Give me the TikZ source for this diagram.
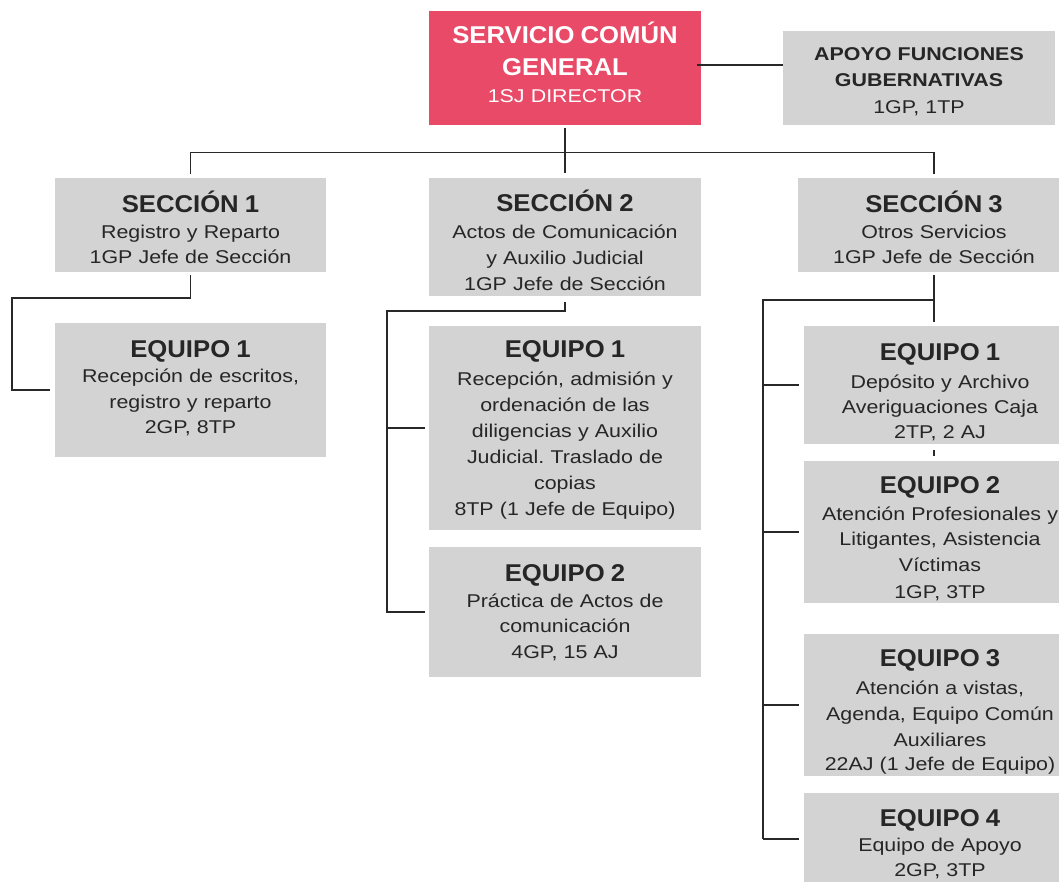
\documentclass[tikz,border=0pt]{standalone}
\usepackage{fontspec}
\setmainfont{Liberation Sans}
\newfontfamily\bodyf[FakeStretch=1.157]{Liberation Sans}
\newfontfamily\titlef[FakeStretch=1.057]{Liberation Sans}
\definecolor{boxgray}{RGB}{211,211,211}
\definecolor{redbox}{RGB}{232,74,104}
\definecolor{txtcol}{RGB}{38,38,38}
\definecolor{linecol}{RGB}{40,40,40}
\newcommand{\fl}{\rule{0pt}{28pt}}
\newcommand{\ttl}[1]{{\titlef\bfseries\fontsize{24.3}{25.5}\selectfont #1}}
\frenchspacing
\begin{document}
\begin{tikzpicture}[x=1pt,y=-1pt,
  box/.style={fill=boxgray, draw=none, inner sep=0pt, outer sep=0pt, anchor=north west},
  txt/.style={anchor=north, inner sep=0pt, outer sep=0pt, text width=300pt, align=center,
    font=\bodyf\fontsize{18.5}{25.5}\selectfont\frenchspacing, text=txtcol},
  ln/.style={draw=linecol, line width=1.9pt},
  bus/.style={draw=linecol, line width=2.9pt}]
\useasboundingbox (0,0) rectangle (1059,881);
\clip (0,0) rectangle (1059,881);

% boxes
\node[box, fill=redbox, minimum width=272pt, minimum height=114pt] (red) at (429,11) {};
\node[box, minimum width=272pt, minimum height=94pt] (apoyo) at (783,31) {};
\node[box, minimum width=271pt, minimum height=94pt] (s1) at (55,178) {};
\node[box, minimum width=272pt, minimum height=118pt] (s2) at (429,178) {};
\node[box, minimum width=272pt, minimum height=94pt] (s3) at (798,178) {};
\node[box, minimum width=271pt, minimum height=134pt] (e11) at (55,323) {};
\node[box, minimum width=272pt, minimum height=204pt] (e21) at (429,326) {};
\node[box, minimum width=272pt, minimum height=130pt] (e22) at (429,547) {};
\node[box, minimum width=272pt, minimum height=118pt] (e31) at (804,326) {};
\node[box, minimum width=272pt, minimum height=142pt] (e32) at (804,461) {};
\node[box, minimum width=272pt, minimum height=142pt] (e33) at (804,634) {};
\node[box, minimum width=272pt, minimum height=92pt] (e34) at (804,793) {};

% texts
\node[txt, text=white] (red-t) at (565,15.5) {\fl\ttl{SERVICIO COMÚN}\\[6.5pt]\ttl{GENERAL}\\[1pt]1SJ DIRECTOR};
\node[txt] (apoyo-t) at (919,32) {\fl\textbf{APOYO FUNCIONES}\\[0.5pt]\textbf{GUBERNATIVAS}\\[1.5pt]1GP, 1TP};
\node[txt] (s1-t) at (190.5,184.7) {\fl\ttl{SECCIÓN 1}\\Registro y Reparto\\[-0.5pt]1GP Jefe de Sección};
\node[txt] (s2-t) at (565,183.7) {\fl\ttl{SECCIÓN 2}\\[1pt]Actos de Comunicación\\[0.7pt]y Auxilio Judicial\\[1pt]1GP Jefe de Sección};
\node[txt] (s3-t) at (934,184.7) {\fl\ttl{SECCIÓN 3}\\Otros Servicios\\[-0.5pt]1GP Jefe de Sección};
\node[txt] (e11-t) at (190.5,329.3) {\fl\ttl{EQUIPO 1}\\Recepción de escritos,\\registro y reparto\\2GP, 8TP};
\node[txt] (e21-t) at (565,329.3) {\fl\ttl{EQUIPO 1}\\[2.9pt]Recepción, admisión y\\[0.5pt]ordenación de las\\[0.5pt]diligencias y Auxilio\\[0.5pt]Judicial. Traslado de\\[0.5pt]copias\\[0.5pt]8TP (1 Jefe de Equipo)};
\node[txt] (e22-t) at (565,553.7) {\fl\ttl{EQUIPO 2}\\[0.5pt]Práctica de Actos de\\[-0.5pt]comunicación\\4GP, 15 AJ};
\node[txt] (e31-t) at (940,332) {\fl\ttl{EQUIPO 1}\\[2.8pt]Depósito y Archivo\\[-0.5pt]Averiguaciones Caja\\[-0.5pt]2TP, 2 AJ};
\node[txt] (e32-t) at (940,465.3) {\fl\ttl{EQUIPO 2}\\[1.2pt]Atención Profesionales y\\Litigantes, Asistencia\\[0.5pt]Víctimas\\[1pt]1GP, 3TP};
\node[txt] (e33-t) at (940,638.7) {\fl\ttl{EQUIPO 3}\\[1.8pt]Atención a vistas,\\[0.5pt]Agenda, Equipo Común\\[0.5pt]Auxiliares\\[-1pt]22AJ (1 Jefe de Equipo)};
\node[txt] (e34-t) at (940,798.7) {\fl\ttl{EQUIPO 4}\\[-0.5pt]Equipo de Apoyo\\[-0.5pt]2GP, 3TP};

% connectors
\coordinate (rj) at ([yshift=3pt]red.east);
\draw[ln] ([xshift=-4pt]rj) -- (rj -| apoyo.west);
\draw[ln] ([yshift=-3pt]red.south) -- ([yshift=5pt]s2.north);
\draw[ln] ([yshift=4pt]s1.north) -- ++(0,-21.5) -| ([yshift=4pt]s3.north);

\draw[ln] ([yshift=-3pt]s1.south) -- ++(0,23) -- ++(-178.5,0) |- ([xshift=-5pt]e11.west);

\draw[ln] ([yshift=-6pt]s2.south) -- ++(0,9) -- ++(-178,0) coordinate (s2c) |- ([xshift=-4pt]e21.west);
\draw[ln] (s2c) |- ([xshift=-4pt]e22.west);

\draw[bus] ([yshift=-3pt]s3.south) -- ++(0,47);
\draw[bus] ([yshift=-3pt]s3.south) ++(0,25) -- ++(-171,0) coordinate (s3c) -- ++(0,539);
\draw[ln] (s3c |- e31.west) -- ([xshift=-5pt]e31.west);
\draw[ln] (s3c |- e32.west) -- ([xshift=-5pt]e32.west);
\draw[ln] (s3c |- e33.west) -- ([xshift=-5pt]e33.west);
\draw[ln] (s3c |- e34.west) -- ([xshift=-5pt]e34.west);
\draw[ln] ([xshift=-6pt,yshift=-6pt]e31.south) -- ([xshift=-6pt,yshift=5pt]e32.north);
\end{tikzpicture}
\end{document}
